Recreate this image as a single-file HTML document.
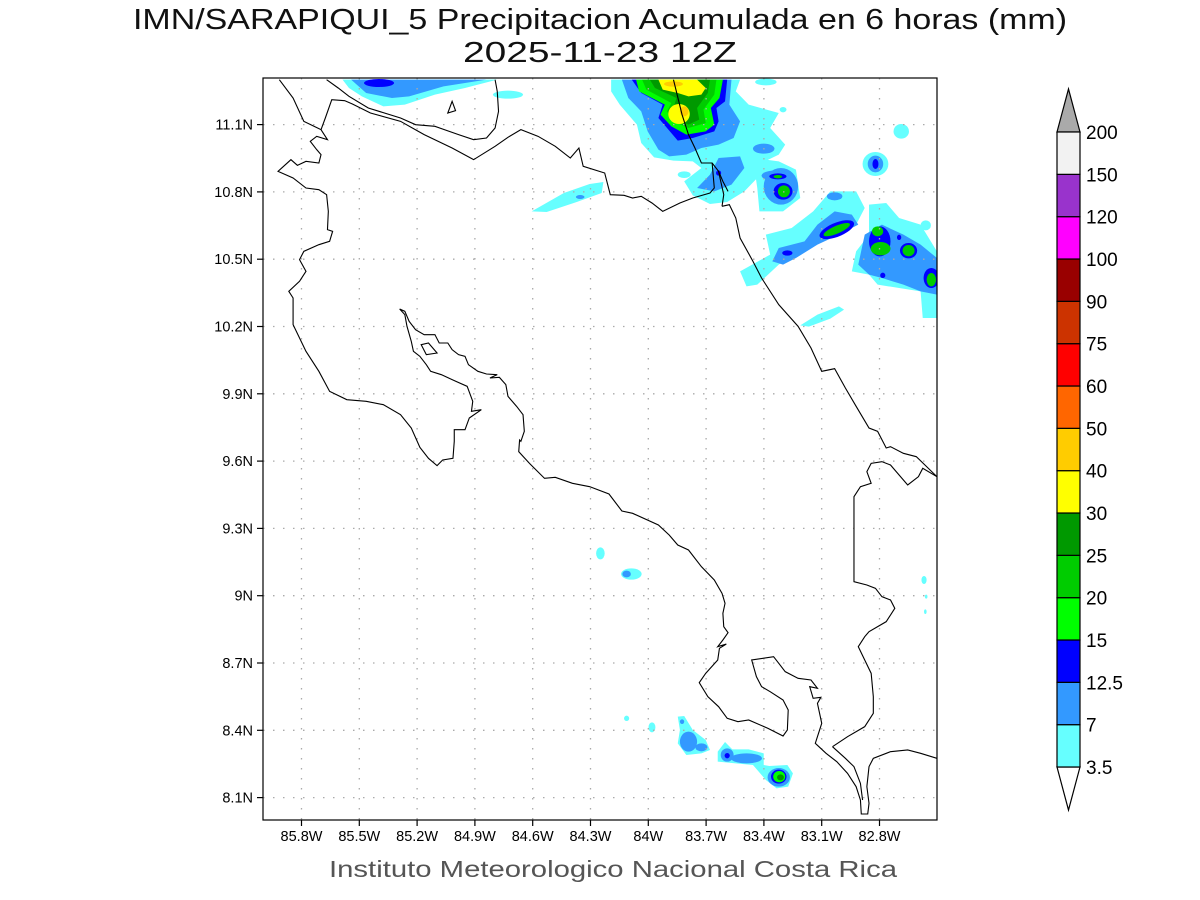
<!DOCTYPE html>
<html><head><meta charset="utf-8"><style>
html,body{margin:0;padding:0;background:#fff;}
svg{display:block;font-family:"Liberation Sans",sans-serif;}
</style></head><body>
<svg id="chart" width="1200" height="900" viewBox="0 0 1200 900" xmlns="http://www.w3.org/2000/svg">
<defs><clipPath id="frameclip"><rect x="263" y="78" width="674" height="742"/></clipPath></defs>
<rect width="1200" height="900" fill="#fff"/>
<text x="600" y="29" text-anchor="middle" font-size="29" textLength="934" lengthAdjust="spacingAndGlyphs" fill="#111">IMN/SARAPIQUI_5 Precipitacion Acumulada en 6 horas (mm)</text>
<text x="600" y="62" text-anchor="middle" font-size="29" textLength="274" lengthAdjust="spacingAndGlyphs" fill="#111">2025-11-23 12Z</text>

<g clip-path="url(#frameclip)">
<g transform="translate(263,78) scale(0.4298,0.33333)">
<polygon fill="#66ffff" points="185,5 545,5 470,30 400,50 330,80 280,85 230,55 200,30"/>
<polygon fill="#3399ff" points="205,5 520,5 420,25 340,55 300,60 240,45"/>
<ellipse fill="#0000ff" cx="270" cy="15" rx="35" ry="12"/>
<ellipse fill="#66ffff" cx="570" cy="50" rx="35" ry="12"/>
<ellipse fill="#66ffff" cx="1170" cy="12" rx="25" ry="10"/>
<ellipse fill="#66ffff" cx="1210" cy="95" rx="8" ry="8"/>
<polygon fill="#66ffff" points="625,400 700,345 760,318 792,312 788,345 730,372 660,402"/>
<ellipse fill="#3399ff" cx="738" cy="357" rx="10" ry="6"/>
<polygon fill="#66ffff" points="810,5 1110,5 1100,40 1130,80 1200,105 1180,150 1215,200 1200,230 1160,255 1150,300 1120,340 1080,372 1040,378 1000,352 980,310 1020,270 1000,250 955,248 910,238 880,195 870,140 830,80 810,40"/>
<polygon fill="#66ffff" points="1140,240 1200,250 1240,275 1250,360 1210,400 1155,400 1150,330"/>
<ellipse fill="#66ffff" cx="980" cy="290" rx="15" ry="10"/>
<polygon fill="#3399ff" points="835,5 1090,5 1085,80 1110,130 1095,180 1060,200 1020,210 985,230 945,235 920,215 895,160 880,100 850,60"/>
<polygon fill="#3399ff" points="1060,240 1110,235 1120,270 1090,320 1050,340 1010,330 1040,290"/>
<ellipse fill="#3399ff" cx="1165" cy="212" rx="25" ry="15"/>
<ellipse fill="#3399ff" cx="1205" cy="325" rx="40" ry="55"/>
<ellipse fill="#3399ff" cx="1195" cy="293" rx="35" ry="16"/>
<polygon fill="#0000ff" points="858,5 1080,5 1075,70 1055,90 1060,130 1050,160 1000,180 965,188 940,150 920,120 930,80 880,45"/>
<polygon fill="#00ff00" points="868,5 1070,5 1062,60 1042,90 1050,140 1030,160 985,170 950,145 925,110 935,80 875,40"/>
<polygon fill="#00cc00" points="882,5 1055,5 1050,50 1025,95 1030,135 990,150 955,130 940,100 950,75 892,35"/>
<polygon fill="#009900" points="900,5 1040,5 1035,45 1010,90 1015,125 990,140 962,125 955,90 962,60 912,30"/>
<polygon fill="#ffff00" points="920,5 1010,5 1030,30 1020,50 990,55 965,45 930,35"/>
<ellipse fill="#ffff00" cx="968" cy="108" rx="25" ry="30"/>
<ellipse fill="#ffcc00" cx="980" cy="100" rx="10" ry="15"/>
<ellipse fill="#ffcc00" cx="955" cy="18" rx="22" ry="8"/>
<ellipse fill="#0000ff" cx="1060" cy="285" rx="6" ry="8"/>
<ellipse fill="#0000ff" cx="1198" cy="295" rx="20" ry="9"/>
<ellipse fill="#00cc00" cx="1198" cy="296" rx="10" ry="5"/>
<ellipse fill="#0000ff" cx="1210" cy="340" rx="22" ry="25"/>
<ellipse fill="#00cc00" cx="1212" cy="340" rx="14" ry="18"/>
<ellipse fill="#66ffff" cx="1425" cy="258" rx="30" ry="36"/>
<ellipse fill="#3399ff" cx="1425" cy="258" rx="18" ry="25"/>
<ellipse fill="#0000ff" cx="1425" cy="258" rx="7" ry="15"/>
<ellipse fill="#66ffff" cx="1485" cy="160" rx="18" ry="22"/>
<polygon fill="#66ffff" points="1110,580 1180,530 1170,470 1230,450 1280,400 1320,340 1380,340 1400,390 1380,440 1320,480 1260,510 1200,560 1150,620 1125,625"/>
<polygon fill="#3399ff" points="1185,550 1200,510 1260,490 1290,440 1330,400 1370,410 1385,440 1340,470 1290,500 1240,540 1210,560"/>
<ellipse fill="#3399ff" cx="1330" cy="355" rx="18" ry="12"/>
<ellipse fill="#0000ff" cx="1335" cy="455" rx="45" ry="20" transform="rotate(-30 1335 455)"/>
<ellipse fill="#00cc00" cx="1335" cy="455" rx="35" ry="11" transform="rotate(-30 1335 455)"/>
<ellipse fill="#0000ff" cx="1220" cy="525" rx="12" ry="8"/>
<polygon fill="#66ffff" points="1370,580 1380,520 1410,470 1410,380 1450,375 1480,420 1530,440 1568,520 1568,720 1535,720 1530,640 1480,630 1430,620 1410,590"/>
<polygon fill="#3399ff" points="1385,560 1400,470 1440,440 1490,470 1530,500 1568,540 1568,650 1530,640 1490,620 1440,600 1410,590"/>
<ellipse fill="#0000ff" cx="1435" cy="490" rx="25" ry="45"/>
<ellipse fill="#0000ff" cx="1502" cy="518" rx="20" ry="23"/>
<ellipse fill="#0000ff" cx="1555" cy="600" rx="18" ry="30"/>
<ellipse fill="#0000ff" cx="1442" cy="592" rx="6" ry="8"/>
<ellipse fill="#0000ff" cx="1480" cy="478" rx="5" ry="8"/>
<ellipse fill="#00cc00" cx="1430" cy="460" rx="13" ry="15"/>
<ellipse fill="#00cc00" cx="1437" cy="512" rx="23" ry="20"/>
<ellipse fill="#00cc00" cx="1502" cy="518" rx="14" ry="17"/>
<ellipse fill="#00cc00" cx="1555" cy="605" rx="11" ry="20"/>
<polygon fill="#66ffff" points="1250,742 1290,710 1340,685 1352,695 1320,722 1270,746"/>
<ellipse fill="#66ffff" cx="1542" cy="442" rx="12" ry="15"/>
</g>
<g transform="translate(263,440) scale(0.4298,0.33333)">
<ellipse fill="#66ffff" cx="785" cy="340" rx="10" ry="18"/>
<ellipse fill="#66ffff" cx="857" cy="402" rx="24" ry="17"/>
<ellipse fill="#3399ff" cx="846" cy="402" rx="10" ry="10"/>
<ellipse fill="#66ffff" cx="846" cy="835" rx="6" ry="8"/>
<ellipse fill="#66ffff" cx="905" cy="862" rx="8" ry="15"/>
<polygon fill="#66ffff" points="965,830 980,828 1000,870 1030,900 1040,930 1020,940 985,945 965,910 970,870"/>
<ellipse fill="#3399ff" cx="990" cy="905" rx="20" ry="30"/>
<ellipse fill="#3399ff" cx="1020" cy="922" rx="14" ry="12"/>
<ellipse fill="#3399ff" cx="975" cy="845" rx="5" ry="7"/>
<polygon fill="#66ffff" points="1058,935 1075,906 1092,928 1130,928 1165,940 1165,975 1178,978 1220,975 1233,1000 1222,1040 1195,1045 1170,1020 1140,975 1100,970 1058,965"/>
<ellipse fill="#3399ff" cx="1080" cy="945" rx="15" ry="20"/>
<ellipse fill="#3399ff" cx="1125" cy="955" rx="36" ry="15"/>
<ellipse fill="#3399ff" cx="1200" cy="1012" rx="26" ry="28"/>
<ellipse fill="#0000ff" cx="1200" cy="1010" rx="18" ry="21"/>
<ellipse fill="#00ff00" cx="1201" cy="1010" rx="14" ry="17"/>
<ellipse fill="#009900" cx="1204" cy="1012" rx="8" ry="9"/>
<ellipse fill="#0000ff" cx="1080" cy="947" rx="6" ry="8"/>
<ellipse fill="#66ffff" cx="1538" cy="420" rx="6" ry="12"/>
<ellipse fill="#66ffff" cx="1543" cy="470" rx="3" ry="6"/>
<ellipse fill="#66ffff" cx="1541" cy="515" rx="3" ry="7"/>
</g>
<g id="grid"></g>
<g fill="none" stroke="#000" stroke-width="1.1" transform="translate(263,78) scale(0.4298,0.33333)">
<polyline vector-effect="non-scaling-stroke" points="38,5 70,60 95,130 135,155 150,185 125,175 110,190 125,215 135,230 130,255 100,250 80,262 65,245 35,280 70,300 100,330 130,335 148,350 152,400 150,455 162,460 155,490 130,500 95,520 85,545 100,580 85,610 60,640 70,660 70,740 100,820 130,880 155,940 195,965 240,970 280,980 320,1010 345,1050 365,1108 385,1141 405,1163 418,1146 442,1141 445,1090 445,1055 470,1055 480,1020 508,995 485,1000 488,970 475,925 440,905 415,890 390,880 380,860 365,835 350,820 345,790 335,745 330,710 318,693 330,700 340,730 355,755 375,770 400,770 410,795 430,795 440,815 455,830 470,835 478,860 500,880 520,888 545,890 528,900 550,898 565,920 570,955 590,985 605,1010 608,1060 600,1090 597,1086 595,1121 620,1156 655,1201 680,1198 720,1216 760,1226 805,1248 835,1299 860,1306 920,1341 945,1371 965,1401 990,1416 1020,1466 1050,1506 1068,1546 1075,1576 1070,1606 1072,1646 1082,1664 1070,1686 1058,1706 1078,1698 1062,1711 1058,1746 1030,1786 1015,1814 1035,1856 1060,1886 1080,1921 1105,1931 1130,1926 1175,1951 1210,1974 1220,1956 1222,1896 1210,1866 1180,1841 1160,1826 1148,1796 1137,1746 1188,1736 1200,1756 1215,1781 1245,1801 1275,1806 1290,1831 1272,1826 1280,1861 1298,1858 1290,1876 1300,1936 1285,1996 1310,2026 1335,2051 1360,2086 1380,2126 1390,2166 1392,2208 1407,2208 1410,2176 1405,2126 1410,2066 1420,2041 1460,2021 1500,2016 1530,2026 1568,2041"/>
<polyline vector-effect="non-scaling-stroke" points="1325,2006 1355,2041 1375,2066 1390,2116 1395,2166"/>
<polyline vector-effect="non-scaling-stroke" points="1325,2006 1360,1976 1400,1946 1420,1906 1420,1856 1415,1786 1400,1746 1385,1706 1400,1676 1410,1661 1450,1631 1470,1591 1460,1566 1440,1556 1425,1531 1405,1521 1375,1511 1375,1256 1390,1226 1415,1216 1405,1181 1415,1156 1440,1151 1460,1161 1480,1191 1500,1221 1525,1196 1535,1171 1568,1196"/>
<polyline vector-effect="non-scaling-stroke" points="1068,385 1085,380 1100,420 1110,480 1140,550 1160,600 1200,680 1245,745 1275,810 1300,880 1330,872 1355,930 1380,985 1410,1050 1430,1060 1450,1110 1460,1106 1490,1126 1520,1136 1568,1196"/>
<polyline vector-effect="non-scaling-stroke" points="955,5 975,110 990,170 1005,210 1020,255 1045,255 1060,280 1070,310 1082,340"/>
<polyline vector-effect="non-scaling-stroke" points="135,155 145,120 160,65 190,68 208,78 250,105 320,130 375,170 440,210 490,245 540,205 570,178 600,155 640,175 680,205 715,240 735,210 745,265 795,285 808,350 840,352 860,360 880,355 905,375 930,400 970,375 1000,360 1040,345 1050,330 1045,255"/>
<polyline vector-effect="non-scaling-stroke" points="148,5 175,30 200,55 245,90 320,120 355,140 400,145 455,170 490,185 520,180 540,150 548,100 545,40 540,5"/>
<polyline vector-effect="non-scaling-stroke" points="1068,385 1072,350 1065,310 1060,280"/>
<polygon vector-effect="non-scaling-stroke" points="430,105 440,70 448,98"/>
<polygon vector-effect="non-scaling-stroke" points="368,800 385,795 405,825 380,830"/>
</g>
</g>
<rect x="263" y="78" width="674" height="742" fill="none" stroke="#000" stroke-width="1.2"/>
<g id="axes"></g>
<g id="colorbar"></g>
<text x="613" y="877" text-anchor="middle" font-size="23" fill="#555" textLength="568" lengthAdjust="spacingAndGlyphs">Instituto Meteorologico Nacional Costa Rica</text>
</svg>
<script>
const lonTicks = [85.8, 85.5, 85.2, 84.9, 84.6, 84.3, 84.0, 83.7, 83.4, 83.1, 82.8];
const lonLabels = ["85.8W","85.5W","85.2W","84.9W","84.6W","84.3W","84W","83.7W","83.4W","83.1W","82.8W"];
const latTicks = [11.1, 10.8, 10.5, 10.2, 9.9, 9.6, 9.3, 9.0, 8.7, 8.4, 8.1];
const latLabels = ["11.1N","10.8N","10.5N","10.2N","9.9N","9.6N","9.3N","9N","8.7N","8.4N","8.1N"];
const cbLevels = ["3.5","7","12.5","15","20","25","30","40","50","60","75","90","100","120","150","200"];
const cbColors = ["#66ffff","#3399ff","#0000ff","#00ff00","#00cc00","#009900","#ffff00","#ffcc00","#ff6600","#ff0000","#cc3300","#990000","#ff00ff","#9933cc","#f2f2f2"];

const NS = "http://www.w3.org/2000/svg";
const xOf = lon => 301.5 + (85.8 - lon) / 0.3 * 57.8;
const yOf = lat => 124.6 + (11.1 - lat) / 0.3 * 67.3;
function mk(tag, attrs, parent){ const e = document.createElementNS(NS, tag); for (const k in attrs) e.setAttribute(k, attrs[k]); parent.appendChild(e); return e; }
const gridG = document.getElementById('grid');
const axesG = document.getElementById('axes');
lonTicks.forEach((lon, i) => {
  const x = xOf(lon);
  const g = mk('line', {x1:x, y1:78, x2:x, y2:820, stroke:'#aaa', 'stroke-width':1.3, 'stroke-dasharray':'1.5,8.5'}, gridG);
  
  
  const t = mk('line', {x1:x, y1:820, x2:x, y2:826, stroke:'#000', 'stroke-width':1.2}, axesG);
  
  
  const l = mk('text', {x:x, y:841, 'text-anchor':'middle', 'font-size':14.5, fill:'#000'}, axesG);
  l.textContent = lonLabels[i];
  
  
});
latTicks.forEach((lat, i) => {
  const y = yOf(lat);
  const g = mk('line', {x1:263, y1:y, x2:937, y2:y, stroke:'#aaa', 'stroke-width':1.3, 'stroke-dasharray':'1.5,8.5'}, gridG);
  
  
  const t = mk('line', {x1:257, y1:y, x2:263, y2:y, stroke:'#000', 'stroke-width':1.2}, axesG);
  
  
  const l = mk('text', {x:253, y:y+5, 'text-anchor':'end', 'font-size':14.5, fill:'#000'}, axesG);
  l.textContent = latLabels[i];
  
  
});
const cbG = document.getElementById('colorbar');
const cbX = 1057, cbW = 23, cbBottom = 767, cbTopY = 132;
const cbStep = (cbBottom - cbTopY) / cbColors.length;
const cbTopTri = mk('polygon', {points:`${cbX},${cbTopY} ${cbX+cbW},${cbTopY} ${cbX+cbW/2},89`, fill:'#aaaaaa', stroke:'#000', 'stroke-width':1.2}, cbG);


const cbBotTri = mk('polygon', {points:`${cbX},${cbBottom} ${cbX+cbW},${cbBottom} ${cbX+cbW/2},810`, fill:'#fff', stroke:'#000', 'stroke-width':1.2}, cbG);


cbColors.forEach((c, i) => {
  const r = mk('rect', {x:cbX, y:cbBottom - (i+1)*cbStep, width:cbW, height:cbStep, fill:c, stroke:'#000', 'stroke-width':1.2}, cbG);
  
  
});
cbLevels.forEach((lv, i) => {
  const t = mk('text', {x:1086, y:cbBottom - i*cbStep + 7, 'font-size':19, fill:'#000'}, cbG);
  t.textContent = lv;
  
  
});
</script>
</body></html>
